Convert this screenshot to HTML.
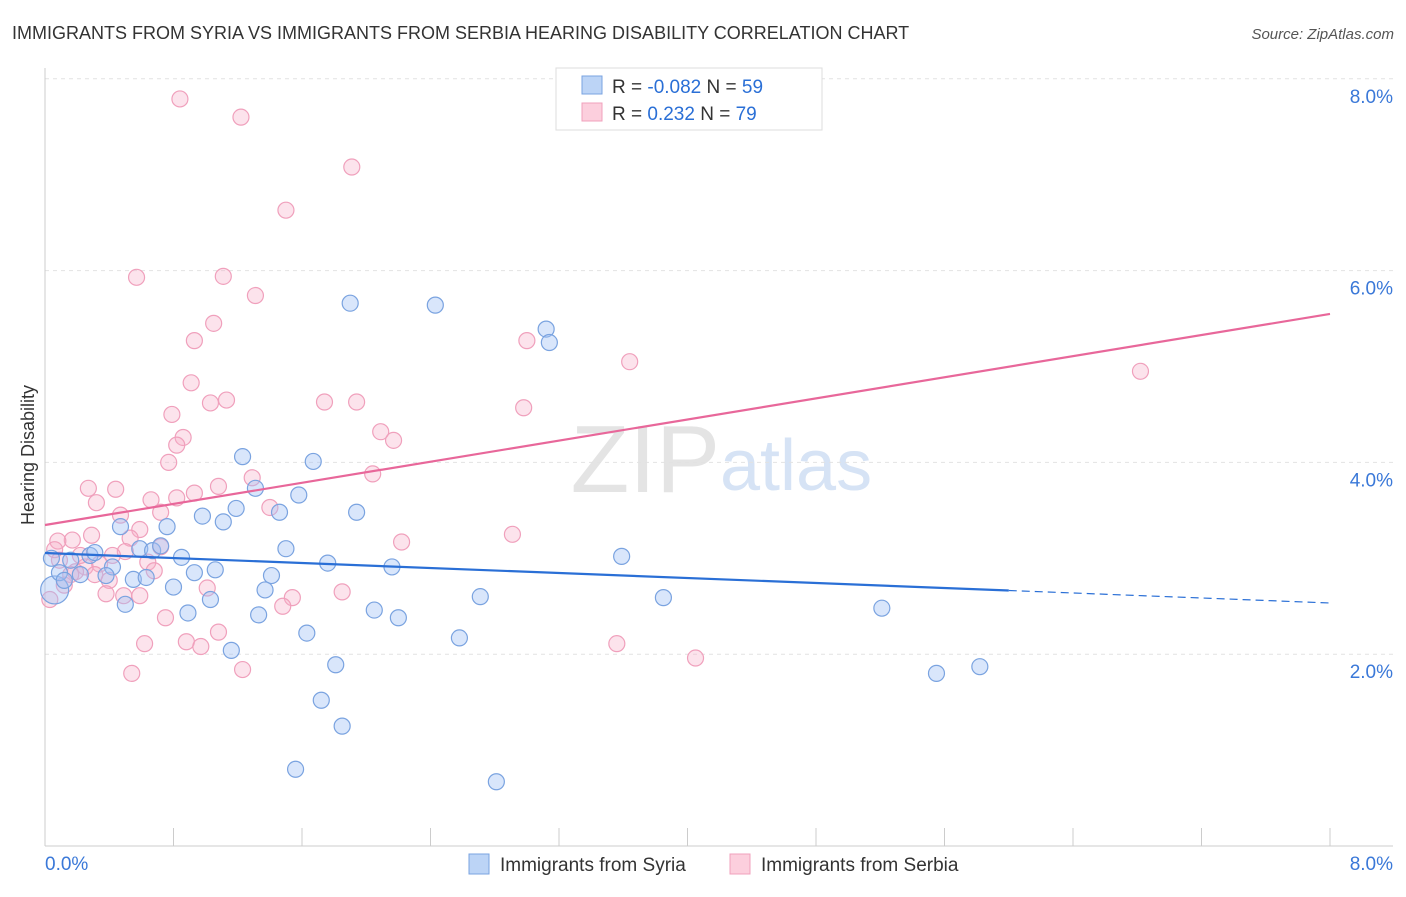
<!DOCTYPE html>
<html><head><meta charset="utf-8"><style>
body{margin:0;background:#fff;font-family:"Liberation Sans",sans-serif;}
svg text{font-family:"Liberation Sans",sans-serif;}
</style></head><body>
<svg id="chart" width="1406" height="892" viewBox="0 0 1406 892">
<text x="12" y="39" font-size="18" fill="#333">IMMIGRANTS FROM SYRIA VS IMMIGRANTS FROM SERBIA HEARING DISABILITY CORRELATION CHART</text>
<text x="1394" y="39" font-size="15" fill="#555" font-style="italic" text-anchor="end">Source: ZipAtlas.com</text>
<text x="720" y="492" font-size="96" fill="#e4e4e4" text-anchor="end" font-family="Liberation Serif">ZIP</text>
<text x="720" y="490" font-size="72" fill="#d6e3f5">atlas</text>
<g id="grid"></g>
<g id="axes"></g>
<text transform="translate(34,455) rotate(-90)" font-size="18" fill="#333" text-anchor="middle">Hearing Disability</text>
<g id="marks"></g>
<g>
<rect x="556" y="68" width="266" height="62" fill="#fff" stroke="#ddd"/>
<rect x="582" y="76" width="20" height="18" fill="#bcd4f6" stroke="#7aa3e0"/>
<rect x="582" y="103" width="20" height="18" fill="#fccfdd" stroke="#f0a0bc"/>
<text x="612" y="93" font-size="19" fill="#333">R = <tspan fill="#2a6fd6">-0.082</tspan>   N = <tspan fill="#2a6fd6">59</tspan></text>
<text x="612" y="120" font-size="19" fill="#333">R = <tspan fill="#2a6fd6">  0.232</tspan>   N = <tspan fill="#2a6fd6">79</tspan></text>
</g>
<g>
<rect x="469" y="854" width="20" height="20" fill="#bcd4f6" stroke="#7aa3e0"/>
<text x="500" y="871" font-size="19" fill="#333">Immigrants from Syria</text>
<rect x="730" y="854" width="20" height="20" fill="#fccfdd" stroke="#f0a0bc"/>
<text x="761" y="871" font-size="19" fill="#333">Immigrants from Serbia</text>
</g>
</svg>
<script>
const yTicks=[2,4,6,8];
const yTickLabels=["2.0%","4.0%","6.0%","8.0%"];
const xEndLabels=["0.0%","8.0%"];
const syriaX=[1.90,2.43,3.12,3.14,1.23,1.67,1.31,1.58,1.19,0.98,1.11,1.46,1.94,0.76,0.47,1.50,0.59,0.67,0.72,0.85,1.76,2.16,3.59,0.42,0.93,1.06,0.55,0.63,0.38,0.80,1.41,1.37,1.03,0.50,2.71,3.85,0.89,1.33,2.05,2.20,1.63,2.58,1.16,1.81,1.72,1.85,1.56,2.81,5.21,5.55,5.82,0.06,0.09,0.16,0.22,0.28,0.31,0.04,0.12];
const syriaY=[5.66,5.64,5.39,5.25,4.06,4.01,3.73,3.66,3.52,3.44,3.38,3.48,3.48,3.33,3.33,3.10,3.10,3.08,3.13,3.01,2.95,2.91,3.02,2.91,2.85,2.88,2.78,2.80,2.82,2.70,2.82,2.67,2.57,2.52,2.60,2.59,2.43,2.41,2.46,2.38,2.22,2.17,2.04,1.89,1.52,1.25,0.80,0.67,2.48,1.80,1.87,2.67,2.85,2.98,2.83,3.03,3.06,3.00,2.77];
const serbiaX=[0.84,1.22,1.91,1.50,0.57,1.11,1.31,1.05,0.93,3.00,3.64,6.82,0.91,1.13,1.03,1.74,1.94,2.98,0.79,0.86,0.82,2.09,2.17,0.77,1.29,2.04,1.08,0.27,0.44,0.66,0.82,0.93,0.32,0.72,0.47,1.40,0.59,0.29,0.53,2.22,2.91,0.17,0.08,0.72,0.50,0.42,0.64,0.34,0.25,0.19,0.68,0.40,1.01,0.38,0.49,0.59,1.54,1.85,1.48,0.75,1.08,0.62,0.88,0.97,3.56,4.05,1.23,0.54,0.09,0.12,0.06,0.16,0.22,0.03,0.31];
const serbiaY=[7.79,7.60,7.08,6.63,5.93,5.94,5.74,5.45,5.27,5.27,5.05,4.95,4.83,4.65,4.62,4.63,4.63,4.57,4.50,4.26,4.18,4.32,4.23,4.00,3.84,3.88,3.75,3.73,3.72,3.61,3.63,3.68,3.58,3.48,3.45,3.53,3.30,3.24,3.21,3.17,3.25,3.19,3.18,3.12,3.07,3.03,2.96,2.94,2.91,2.86,2.87,2.77,2.69,2.63,2.61,2.61,2.59,2.65,2.50,2.38,2.23,2.11,2.13,2.08,2.11,1.96,1.84,1.80,2.98,2.72,3.09,2.83,3.03,2.57,2.83];
const syriaTrend=[3.055,2.534];
const serbiaTrend=[3.347,5.548];
const NS="http://www.w3.org/2000/svg";
const X=v=>45+v/8*1285;
const Y=v=>846-v*95.9;
function mk(tag,attrs,parent){const e=document.createElementNS(NS,tag);for(const k in attrs)e.setAttribute(k,attrs[k]);parent.appendChild(e);return e;}
const grid=document.getElementById('grid'),axes=document.getElementById('axes'),marks=document.getElementById('marks');
yTicks.forEach((t,i)=>{
 const l=mk('line',{x1:45,x2:1393,y1:Y(t),y2:Y(t),stroke:'#e2e2e2','stroke-dasharray':'4,4'},grid);
 
 
 const tx=mk('text',{x:1393,y:Y(t)+24,'font-size':19,fill:'#3a78d8','text-anchor':'end'},axes);
 tx.textContent=yTickLabels[i];
 
 
});
const al=mk('line',{x1:45,x2:45,y1:68,y2:846,stroke:'#ccc'},axes);


const bl=mk('line',{x1:45,x2:1393,y1:846,y2:846,stroke:'#ccc'},axes);


for(let i=0;i<=10;i++){
 const t=mk('line',{x1:X(i*0.8),x2:X(i*0.8),y1:828,y2:846,stroke:'#ccc'},axes);
 
 
}
[[0,'start',45],[1,'end',1393]].forEach(([i,a,x])=>{
 const tx=mk('text',{x:x,y:870,'font-size':19,fill:'#3a78d8','text-anchor':a},axes);
 tx.textContent=xEndLabels[i];
 
 
});
function pts(xs,ys,fill,stroke,name){
 xs.forEach((x,i)=>{
  const big=(x<0.1&&i>=xs.length-10&&name==='syria-point'&&i===51);
  const c=mk('circle',{cx:X(x),cy:Y(ys[i]),r:big?14:8,fill:fill,stroke:stroke,'stroke-width':1.2},marks);
  
  
 });
}
pts(serbiaX,serbiaY,'rgba(246,176,200,0.35)','#f0a0bc','serbia-point');
pts(syriaX,syriaY,'rgba(160,192,244,0.4)','#7aa3e0','syria-point');
const bx=6.0, by=syriaTrend[0]+(syriaTrend[1]-syriaTrend[0])*bx/8;
const s1=mk('line',{x1:X(0),y1:Y(syriaTrend[0]),x2:X(bx),y2:Y(by),stroke:'#2a6fd6','stroke-width':2.2},marks);


const s2=mk('line',{x1:X(bx),y1:Y(by),x2:X(8),y2:Y(syriaTrend[1]),stroke:'#2a6fd6','stroke-width':1.2,'stroke-dasharray':'8,5'},marks);


const p1=mk('line',{x1:X(0),y1:Y(serbiaTrend[0]),x2:X(8),y2:Y(serbiaTrend[1]),stroke:'#e8679a','stroke-width':2.2},marks);


</script>
</body></html>
